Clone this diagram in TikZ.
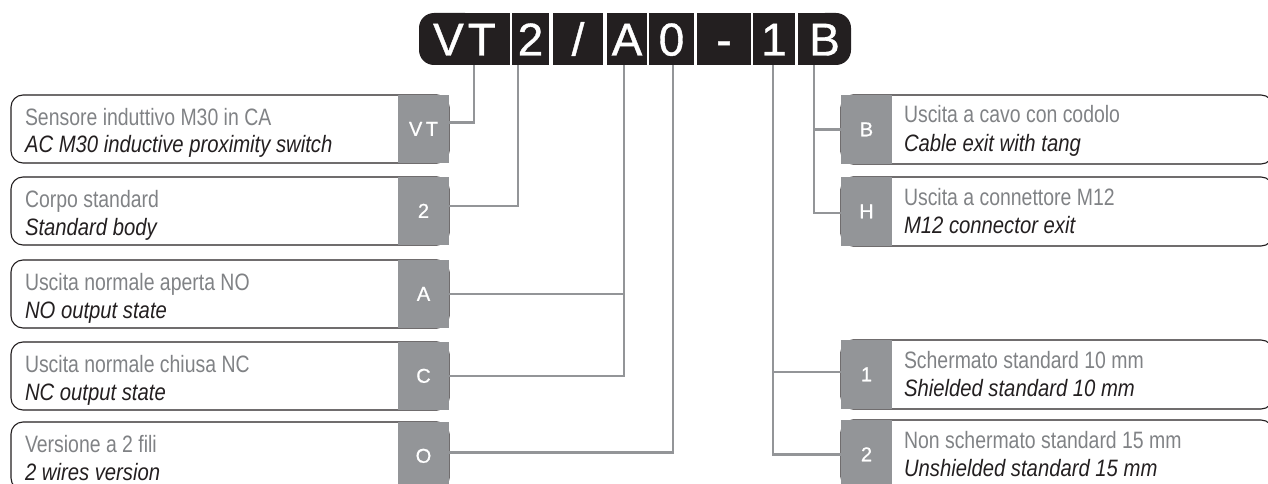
\documentclass[tikz,border=0pt]{standalone}
\usepackage{fontspec}
\setmainfont{Liberation Sans}
\newfontfamily\itfont{Liberation Sans}[FakeStretch=0.82]
\newfontfamily\enfont{Liberation Sans}[FakeStretch=0.855]
\newfontfamily\barfont{Liberation Sans}[FakeBold=0.8]
\definecolor{codeblack}{RGB}{35,31,32}
\definecolor{taggray}{RGB}{147,149,152}
\definecolor{itgray}{RGB}{128,130,133}

\begin{document}
\begin{tikzpicture}[x=1pt,y=-1pt,
  every node/.style={outer sep=0pt, inner sep=0pt},
  cell/.style={fill=codeblack, text=white, minimum height=52pt, text height=33pt, text depth=0pt, font=\barfont\fontsize{46}{46}\selectfont},
  tag/.style={fill=taggray, text=white, minimum width=51pt, text height=13.5pt, text depth=0pt, font=\barfont\fontsize{20}{20}\selectfont},
  leftbox/.style={draw=codeblack, line width=1.1pt, rounded corners=12pt, anchor=north west, minimum width=438pt, minimum height=68pt},
  rightbox/.style={draw=codeblack, line width=1.1pt, rounded corners=12pt, anchor=north west, minimum width=432pt, minimum height=69pt},
  it/.style={anchor=base west, text=itgray, font=\itfont\fontsize{23.7}{28}\selectfont},
  en/.style={anchor=base west, text=codeblack, font=\enfont\itshape\fontsize{23.7}{28}\selectfont},
  link/.style={draw=taggray, line width=2.2pt}]
\clip (0,0) rectangle (1268,484);

% code bar
\fill[codeblack, rounded corners=15pt] (419,13) rectangle (480,65);
\fill[codeblack] (450,13) rectangle (510,65);
\fill[codeblack, rounded corners=15pt] (810,13) rectangle (851,65);
\fill[codeblack] (798,13) rectangle (830,65);
\node[cell, fill=none, minimum width=91pt] (cVT) at (464.5,39) {V\kern4pt T};
\node[cell, minimum width=37pt] (c2) at (530.5,39) {2};
\node[cell, minimum width=50pt] (cSlash) at (578,39) {/};
\node[cell, minimum width=40pt] (cA) at (627,39) {A};
\node[cell, minimum width=45pt] (c0) at (671.5,39) {0};
\node[cell, minimum width=54pt] (cDash) at (724,39) {-};
\node[cell, minimum width=42pt] (c1) at (774,39) {1};
\node[cell, fill=none, minimum width=53pt] (cB) at (824.5,39) {B};

% left column
\node[leftbox] (boxVT) at (11,95) {};
\node[tag, minimum height=68pt] (gVT) at (423.5,129) {V\kern3.5pt T};
\node[it] (itVT) at (25,125) {Sensore induttivo M30 in CA};
\node[en] (enVT) at (25,153) {AC M30 inductive proximity switch};

\node[leftbox] (box2) at (11,177) {};
\node[tag, minimum height=68pt] (g2) at (423.5,211) {2};
\node[it] (it2) at (25,207) {Corpo standard};
\node[en] (en2) at (25,235) {Standard body};

\node[leftbox] (boxA) at (11,260) {};
\node[tag, minimum height=68pt] (gA) at (423.5,294) {A};
\node[it] (itA) at (25,290) {Uscita normale aperta NO};
\node[en] (enA) at (25,318) {NO output state};

\node[leftbox] (boxC) at (11,342) {};
\node[tag, minimum height=68pt] (gC) at (423.5,376) {C};
\node[it] (itC) at (25,372) {Uscita normale chiusa NC};
\node[en] (enC) at (25,400) {NC output state};

\node[leftbox] (boxO) at (11,422) {};
\node[tag, minimum height=68pt] (gO) at (423.5,456) {O};
\node[it] (itO) at (25,452) {Versione a 2 fili};
\node[en] (enO) at (25,480) {2 wires version};

% right column
\node[rightbox] (boxB) at (841,95) {};
\node[tag, minimum height=69pt] (gB) at (866.5,129.5) {B};
\node[it] (itB) at (904,123) {Uscita a cavo con codolo};
\node[en] (enB) at (904,151) {Cable exit with tang};

\node[rightbox] (boxH) at (841,177) {};
\node[tag, minimum height=69pt] (gH) at (866.5,211.5) {H};
\node[it] (itH) at (904,205) {Uscita a connettore M12};
\node[en] (enH) at (904,233) {M12 connector exit};

\node[rightbox] (box1) at (841,340) {};
\node[tag, minimum height=69pt] (g1) at (866.5,374.5) {1};
\node[it] (it1) at (904,368) {Schermato standard 10 mm};
\node[en] (en1) at (904,396) {Shielded standard 10 mm};

\node[rightbox] (boxTwo) at (841,420) {};
\node[tag, minimum height=69pt] (gTwo) at (866.5,454.5) {2};
\node[it] (itTwo) at (904,448) {Non schermato standard 15 mm};
\node[en] (enTwo) at (904,476) {Unshielded standard 15 mm};

% links
\draw[link] ([xshift=9.5pt]cVT.south) |- ([yshift=6.5pt]gVT.east);
\draw[link] ([xshift=-12.5pt]c2.south) |- ([yshift=5pt]g2.east);
\coordinate (jA) at ([xshift=-3pt]cA.south);
\draw[link] (jA) |- (gC.east);
\draw[link] (gA.east) -| (jA);
\draw[link] ([xshift=1.5pt]c0.south) |- ([yshift=3.5pt]gO.east);
\coordinate (j1) at ([xshift=-1pt]c1.south);
\draw[link] (j1) |- (gTwo.west);
\draw[link] ([yshift=2.5pt]g1.west) -| (j1);
\coordinate (jB) at ([xshift=-10.5pt]cB.south);
\draw[link] (jB) |- ([yshift=-1.5pt]gH.west);
\draw[link] (gB.west) -| (jB);
\end{tikzpicture}
\end{document}
